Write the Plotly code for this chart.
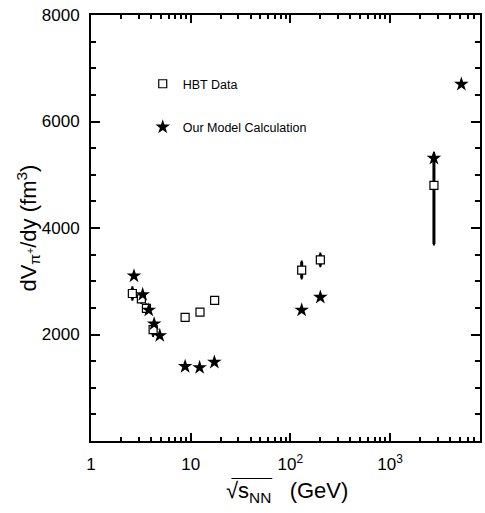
import plotly.graph_objects as go

# HBT data
hbt_energy = [2.6, 3.2, 3.6, 4.2, 8.8, 12.4, 17.4, 130, 200, 2760]
hbt_volume = [2770, 2670, 2490, 2090, 2320, 2420, 2640, 3210, 3400, 4800]
hbt_err_plus = [110, 70, 70, 110, 0, 0, 0, 150, 110, 600]
hbt_err_minus = [110, 70, 70, 110, 0, 0, 0, 150, 110, 1100]

# Model calculation
model_energy = [2.7, 3.3, 3.8, 4.3, 4.9, 8.8, 12.3, 17.3, 130, 200, 2760, 5200]
model_volume = [3100, 2750, 2460, 2200, 1980, 1400, 1380, 1480, 2460, 2700, 5310, 6700]

x_tickvals = [1, 10, 100, 1000]
x_ticktext = ["1", "10", "10<sup>2</sup>", "10<sup>3</sup>"]
x_minor = [m * 10 ** d for d in range(4) for m in range(2, 10) if m * 10 ** d < 8000]
y_tickvals = [2000, 4000, 6000, 8000]

FONT = "Liberation Sans, Arial, sans-serif"

fig = go.Figure()
fig.add_trace(go.Scatter(
    x=hbt_energy, y=hbt_volume, mode="markers", name="HBT Data",
    legendgroup="a",
    marker=dict(symbol="square", size=8, color="white", line=dict(color="black", width=1.2)),
    error_y=dict(type="data", array=hbt_err_plus, arrayminus=hbt_err_minus,
                 thickness=3, width=1, color="black"),
))
fig.add_trace(go.Scatter(
    x=model_energy, y=model_volume, mode="markers", name="Our Model Calculation",
    legendgroup="b",
    marker=dict(symbol="star", size=11, color="black", line=dict(width=0)),
))

axis_common = dict(
    showline=True, linecolor="black", linewidth=2, mirror="ticks",
    ticks="inside", tickcolor="black", tickwidth=2, showgrid=False, zeroline=False,
    tickfont=dict(family=FONT, size=17, color="black"),
)

fig.update_xaxes(
    type="log", range=[0, 3.903],
    tickvals=x_tickvals, ticktext=x_ticktext, ticklen=8,
    minor=dict(tickvals=x_minor, ticks="inside", ticklen=4, tickwidth=2, tickcolor="black"),
    ticklabelstandoff=7,
    **axis_common,
)
fig.update_yaxes(
    range=[0, 8000], tickvals=y_tickvals, ticklen=9,
    minor=dict(dtick=500, tick0=0, ticks="inside", ticklen=5, tickwidth=2, tickcolor="black"),
    ticklabelstandoff=6,
    **axis_common,
)

fig.add_annotation(
    text="dV<sub>π<sup>+</sup></sub>/dy (fm<sup>3</sup>)", textangle=-90,
    xref="paper", yref="paper", x=-0.163, y=0.5, showarrow=False,
    font=dict(family=FONT, size=22, color="black"), xanchor="center", yanchor="middle",
)
fig.add_annotation(
    text="√s<sub>NN</sub>   (GeV)",
    xref="paper", yref="paper", x=0.503, y=-0.12, showarrow=False,
    font=dict(family=FONT, size=22, color="black"), xanchor="center", yanchor="middle",
)
# overbar of the square root
fig.add_shape(type="line", xref="paper", yref="paper",
              x0=0.361, x1=0.466, y0=-0.088, y1=-0.088,
              line=dict(color="black", width=1.2))

fig.update_layout(
    width=485, height=513,
    margin=dict(l=91, r=3, t=15, b=72),
    paper_bgcolor="white", plot_bgcolor="white",
    showlegend=True,
    legend=dict(x=0.133, y=0.873, xanchor="left", yanchor="top",
                font=dict(family=FONT, size=12.5, color="black"),
                bgcolor="rgba(0,0,0,0)", tracegroupgap=24),
)

fig.write_html("out.html")
